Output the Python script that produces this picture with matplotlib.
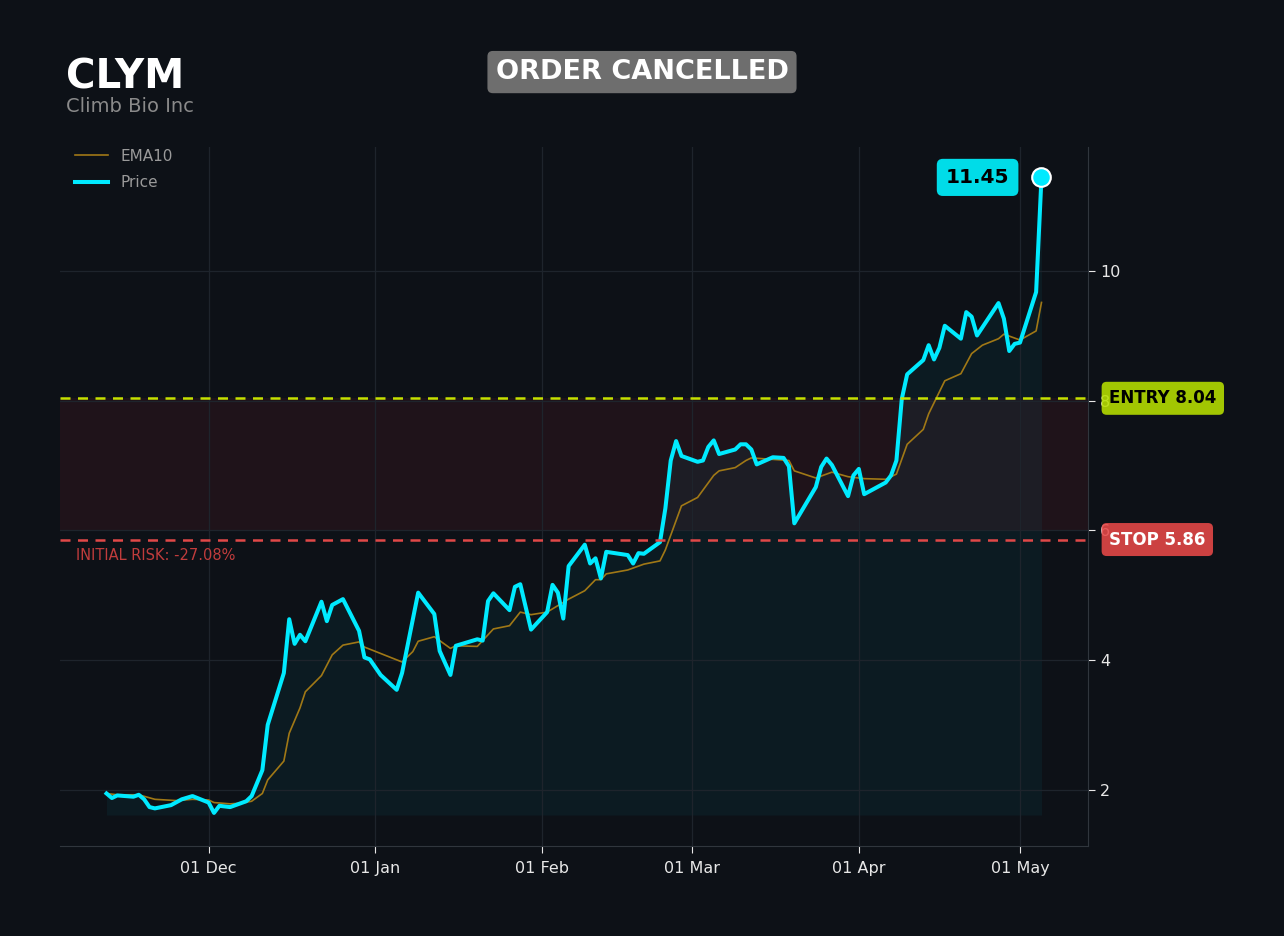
import matplotlib
matplotlib.use("Agg")
import matplotlib.pyplot as plt
import matplotlib.dates as mdates
import matplotlib.transforms as mtransforms
import pandas as pd

# price vertices
price_dates = [
    "2024-11-12", "2024-11-13", "2024-11-14", "2024-11-17", "2024-11-18", "2024-11-19",
    "2024-11-20", "2024-11-21", "2024-11-24", "2024-11-26", "2024-11-28", "2024-12-01",
    "2024-12-02", "2024-12-03", "2024-12-05", "2024-12-08", "2024-12-09", "2024-12-11",
    "2024-12-12", "2024-12-15", "2024-12-16", "2024-12-17", "2024-12-18", "2024-12-19",
    "2024-12-22", "2024-12-23", "2024-12-24", "2024-12-26", "2024-12-29", "2024-12-30",
    "2024-12-31", "2025-01-02", "2025-01-05", "2025-01-06", "2025-01-09", "2025-01-12",
    "2025-01-13", "2025-01-15", "2025-01-16", "2025-01-20", "2025-01-21", "2025-01-22",
    "2025-01-23", "2025-01-26", "2025-01-27", "2025-01-28", "2025-01-30", "2025-02-02",
    "2025-02-03", "2025-02-04", "2025-02-05", "2025-02-06", "2025-02-09", "2025-02-10",
    "2025-02-11", "2025-02-12", "2025-02-13", "2025-02-17", "2025-02-18", "2025-02-19",
    "2025-02-20", "2025-02-23", "2025-02-24", "2025-02-25", "2025-02-26", "2025-02-27",
    "2025-03-02", "2025-03-03", "2025-03-04", "2025-03-05", "2025-03-06", "2025-03-09",
    "2025-03-10", "2025-03-11", "2025-03-12", "2025-03-13", "2025-03-16", "2025-03-18",
    "2025-03-19", "2025-03-20", "2025-03-24", "2025-03-25", "2025-03-26", "2025-03-27",
    "2025-03-30", "2025-03-31", "2025-04-01", "2025-04-02", "2025-04-06", "2025-04-07",
    "2025-04-08", "2025-04-09", "2025-04-10", "2025-04-13", "2025-04-14", "2025-04-15",
    "2025-04-16", "2025-04-17", "2025-04-20", "2025-04-21", "2025-04-22", "2025-04-23",
    "2025-04-27", "2025-04-28", "2025-04-29", "2025-04-30", "2025-05-01", "2025-05-04",
    "2025-05-05",
]
price = [
    1.94, 1.87, 1.91, 1.89, 1.92, 1.85, 1.73, 1.71, 1.76, 1.85, 1.90, 1.80,
    1.64, 1.75, 1.73, 1.82, 1.90, 2.30, 3.00, 3.80, 4.63, 4.25, 4.39, 4.29,
    4.90, 4.60, 4.85, 4.94, 4.45, 4.04, 4.01, 3.77, 3.54, 3.80, 5.04, 4.71,
    4.14, 3.77, 4.22, 4.32, 4.30, 4.91, 5.03, 4.77, 5.13, 5.17, 4.47, 4.74,
    5.16, 5.04, 4.64, 5.45, 5.78, 5.49, 5.57, 5.26, 5.67, 5.62, 5.49, 5.65,
    5.64, 5.82, 6.34, 7.08, 7.38, 7.15, 7.06, 7.08, 7.29, 7.39, 7.18, 7.25,
    7.33, 7.33, 7.25, 7.02, 7.13, 7.12, 6.99, 6.11, 6.67, 6.98, 7.11, 7.01,
    6.53, 6.85, 6.95, 6.56, 6.74, 6.85, 7.08, 8.03, 8.41, 8.63, 8.86, 8.64,
    8.82, 9.16, 8.96, 9.37, 9.30, 9.01, 9.51, 9.27, 8.77, 8.88, 8.90, 9.68,
    11.45,
]

ema_dates = [
    "2024-11-12", "2024-11-14", "2024-11-18", "2024-11-21", "2024-11-25", "2024-11-28",
    "2024-12-01", "2024-12-02", "2024-12-05", "2024-12-07", "2024-12-09", "2024-12-11",
    "2024-12-12", "2024-12-15", "2024-12-16", "2024-12-18", "2024-12-19", "2024-12-22",
    "2024-12-24", "2024-12-26", "2024-12-29", "2024-12-30", "2025-01-06", "2025-01-08",
    "2025-01-09", "2025-01-12", "2025-01-15", "2025-01-16", "2025-01-20", "2025-01-23",
    "2025-01-26", "2025-01-28", "2025-01-30", "2025-02-02", "2025-02-04", "2025-02-06",
    "2025-02-09", "2025-02-11", "2025-02-12", "2025-02-13", "2025-02-17", "2025-02-20",
    "2025-02-23", "2025-02-24", "2025-02-27", "2025-03-02", "2025-03-05", "2025-03-06",
    "2025-03-09", "2025-03-11", "2025-03-12", "2025-03-19", "2025-03-20", "2025-03-24",
    "2025-03-27", "2025-03-30", "2025-04-02", "2025-04-06", "2025-04-08", "2025-04-10",
    "2025-04-13", "2025-04-14", "2025-04-17", "2025-04-20", "2025-04-22", "2025-04-24",
    "2025-04-27", "2025-04-28", "2025-05-01", "2025-05-04", "2025-05-05",
]
ema10 = [
    1.94, 1.92, 1.92, 1.85, 1.83, 1.85, 1.84, 1.80, 1.78, 1.79, 1.82, 1.94,
    2.15, 2.44, 2.87, 3.26, 3.51, 3.76, 4.08, 4.23, 4.28, 4.20, 3.97, 4.13,
    4.29, 4.36, 4.18, 4.22, 4.21, 4.48, 4.53, 4.74, 4.70, 4.74, 4.84, 4.94,
    5.07, 5.24, 5.24, 5.33, 5.39, 5.48, 5.53, 5.70, 6.38, 6.51, 6.85, 6.92,
    6.97, 7.08, 7.12, 7.08, 6.92, 6.81, 6.90, 6.83, 6.80, 6.79, 6.87, 7.33,
    7.56, 7.80, 8.31, 8.42, 8.73, 8.86, 8.96, 9.03, 8.94, 9.08, 9.52,
]

ticker = "CLYM"
company = "Climb Bio Inc"
status = "ORDER CANCELLED"
entry = 8.04
stop = 5.86
risk_pct = -27.08

bg = "#0d1117"
cyan = "#00eaff"

px = pd.to_datetime(price_dates)
ex = pd.to_datetime(ema_dates)

fig = plt.figure(figsize=(12.84, 9.36), dpi=100, facecolor=bg)
ax = fig.add_axes([0.0467, 0.0962, 0.8007, 0.7468], facecolor=bg)

# risk zone + fill under price
ax.axhspan(6.0, entry, color="#ff3040", alpha=0.075, lw=0, zorder=0)
base = min(price) * 0.98
ax.fill_between(px, price, base, color="#00e5ff", alpha=0.05, lw=0, zorder=1)

ax.plot(ex, ema10, color="#a07816", lw=1.2, label="EMA10", zorder=3)
ax.plot(px, price, color=cyan, lw=2.9, label="Price", zorder=4)
ax.scatter([px[-1]], [price[-1]], s=180, color=cyan, edgecolor="white",
           linewidth=1.5, zorder=6)

ax.axhline(entry, color="#c6e000", lw=1.8, ls=(0, (4, 3)), zorder=5)
ax.axhline(stop, color="#e04848", lw=1.8, ls=(0, (4, 3)), zorder=5)

ax.set_ylim(1.13, 11.92)
ax.set_xlim(pd.Timestamp("2024-11-03 08:00"), pd.Timestamp("2025-05-13 16:00"))
ax.set_yticks([2, 4, 6, 8, 10])
ax.xaxis.set_major_locator(mdates.MonthLocator())
ax.xaxis.set_major_formatter(mdates.DateFormatter("%d %b"))

ax.yaxis.tick_right()
ax.tick_params(colors="#e8e8e8", labelsize=11.5, length=5)
ax.tick_params(axis="x", pad=6)
ax.grid(True, color="#1e242c", lw=0.9)
for side in ["left", "top"]:
    ax.spines[side].set_visible(False)
for side in ["right", "bottom"]:
    ax.spines[side].set_color("#30363d")

trans = mtransforms.blended_transform_factory(ax.transAxes, ax.transData)
ax.text(1.0205, entry, f"ENTRY {entry:.2f}", transform=trans, ha="left", va="center",
        fontsize=12, fontweight="bold", color="black", clip_on=False, zorder=10,
        bbox=dict(boxstyle="round,pad=0.45,rounding_size=0.3", fc="#b8e000", ec="none", alpha=0.88))
ax.text(1.0205, stop, f"STOP {stop:.2f}", transform=trans, ha="left", va="center",
        fontsize=12, fontweight="bold", color="white", clip_on=False, zorder=10,
        bbox=dict(boxstyle="round,pad=0.45,rounding_size=0.3", fc="#e84848", ec="none", alpha=0.88))
ax.text(0.016, stop - 0.13, f"INITIAL RISK: {risk_pct:.2f}%", transform=trans,
        ha="left", va="top", fontsize=10.5, color="#c03c3c", zorder=10)

ax.annotate(f"{price[-1]:.2f}", xy=(px[-1], price[-1]), xytext=(-46, 0),
            textcoords="offset points", ha="center", va="center",
            fontsize=14.5, fontweight="bold", color="black", zorder=10,
            bbox=dict(boxstyle="round,pad=0.45,rounding_size=0.3", fc="#00dce8", ec="none"))

leg = ax.legend(loc="upper left", frameon=False, fontsize=11, labelcolor="#9a9a9a",
                handlelength=2.2, borderaxespad=0.3, labelspacing=0.75,
                bbox_to_anchor=(0.004, 1.013))

fig.text(0.0514, 0.917, ticker, fontsize=29, fontweight="bold", color="white",
         ha="left", va="center")
fig.text(0.0514, 0.886, company, fontsize=14, color="#8a8a8a", ha="left", va="center")
fig.text(0.5, 0.923, status, fontsize=19.5, fontweight="bold", color="white",
         ha="center", va="center",
         bbox=dict(boxstyle="round,pad=0.3,rounding_size=0.2", fc="#6e6e6e", ec="none"))

fig.savefig("out.png", dpi=100, facecolor=bg)
